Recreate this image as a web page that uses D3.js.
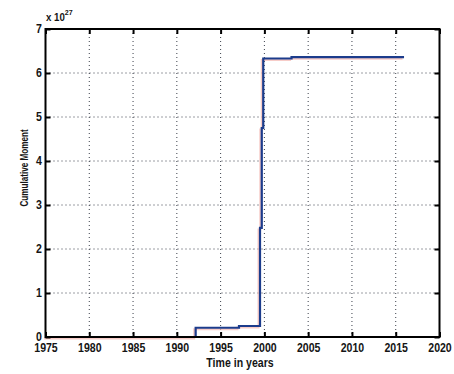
<!DOCTYPE html>
<html><head><meta charset="utf-8">
<script src="https://cdn.jsdelivr.net/npm/d3@7"></script>
<style>
html,body{margin:0;padding:0;background:#fff;}
text{font-family:"Liberation Sans",Arial,sans-serif;font-weight:bold;fill:#151515;}
</style></head>
<body><svg id="c" width="454" height="374"></svg>
<script>
const years = [1975, 1992.15, 1997.1, 1999.5, 1999.7, 1999.87, 2003.1, 2015.95];
const moment = [0, 0.21, 0.25, 2.48, 4.75, 6.33, 6.36, 6.36];
const xTicks = [1975,1980,1985,1990,1995,2000,2005,2010,2015,2020];
const yTicks = [0,1,2,3,4,5,6,7];
const xLabel = "Time in years";
const yLabel = "Cumulative Moment";

const svg = d3.select("#c");
const L=45.5, R=439.5, T=29, B=337;
const SX = 0.88;
const x = d3.scaleLinear().domain([1975,2020]).range([L,R]);
const y = d3.scaleLinear().domain([0,7]).range([B,T]);

// grid
const g = svg.append("g");
g.selectAll(".gx").data(xTicks.slice(1,-1)).enter().append("line")
 .attr("x1",d=>x(d)).attr("x2",d=>x(d)).attr("y1",T).attr("y2",B)
 .attr("stroke","#3a3f4a").attr("stroke-width",1).attr("stroke-dasharray","1,3");
g.selectAll(".gy").data(yTicks.slice(1,-1)).enter().append("line")
 .attr("y1",d=>y(d)).attr("y2",d=>y(d)).attr("x1",L).attr("x2",R)
 .attr("stroke","#3a3f4a").attr("stroke-width",1).attr("stroke-dasharray","1,3");

// data line (step after)
const pts = years.map((t,i)=>[t,moment[i]]);
const line = d3.line().x(d=>x(d[0])).y(d=>y(d[1])).curve(d3.curveStepAfter);
svg.append("path").datum(pts).attr("d",line).attr("fill","none")
 .attr("stroke","#f4b6b0").attr("stroke-width",2).attr("transform","translate(-1.5,1.5)").attr("opacity",0.7);
svg.append("path").datum(pts).attr("d",line).attr("fill","none")
 .attr("stroke","#1c3c8c").attr("stroke-width",2.2);

// axes
const xb = d3.axisBottom(x).tickValues(xTicks).tickSize(-5).tickFormat(d3.format("d"));
const yl = d3.axisLeft(y).tickValues(yTicks).tickSize(-5).tickPadding(4).tickFormat(d3.format("d"));
const xt = d3.axisTop(x).tickValues(xTicks).tickSize(-5).tickFormat("");
const yr = d3.axisRight(y).tickValues(yTicks).tickSize(-5).tickFormat("");
function style(sel){
  sel.select(".domain").remove();
  sel.selectAll(".tick line").attr("stroke","#000").attr("stroke-width",2);
  sel.selectAll(".tick text").style("font-size","12px").style("font-family","'Liberation Sans',Arial,sans-serif")
    .style("font-weight","bold").attr("fill","#151515").attr("transform",`scale(${SX},1)`);
}
svg.append("g").attr("transform",`translate(0,${B})`).call(xb).call(style)
  .selectAll(".tick text").attr("dy",null).attr("y",15);
svg.append("g").attr("transform",`translate(${L},0)`).call(yl).call(style);
svg.append("g").attr("transform",`translate(0,${T})`).call(xt).call(style);
svg.append("g").attr("transform",`translate(${R},0)`).call(yr).call(style);

svg.append("rect").attr("x",L).attr("y",T).attr("width",R-L).attr("height",B-T)
 .attr("fill","none").attr("stroke","#000").attr("stroke-width",2);

// exponent
const ex = svg.append("text").attr("transform",`translate(46,21) scale(${SX},1)`).style("font-size","11px");
ex.append("tspan").text("x 10");
ex.append("tspan").attr("dy",-6).style("font-size","8px").text("27");

svg.append("text").attr("transform",`translate(240,367) scale(${SX},1)`).attr("text-anchor","middle")
 .style("font-size","12px").text(xLabel);
svg.append("text").attr("transform",`translate(28,168) rotate(-90) scale(0.74,1)`).attr("text-anchor","middle")
 .style("font-size","11px").text(yLabel);
</script></body></html>
